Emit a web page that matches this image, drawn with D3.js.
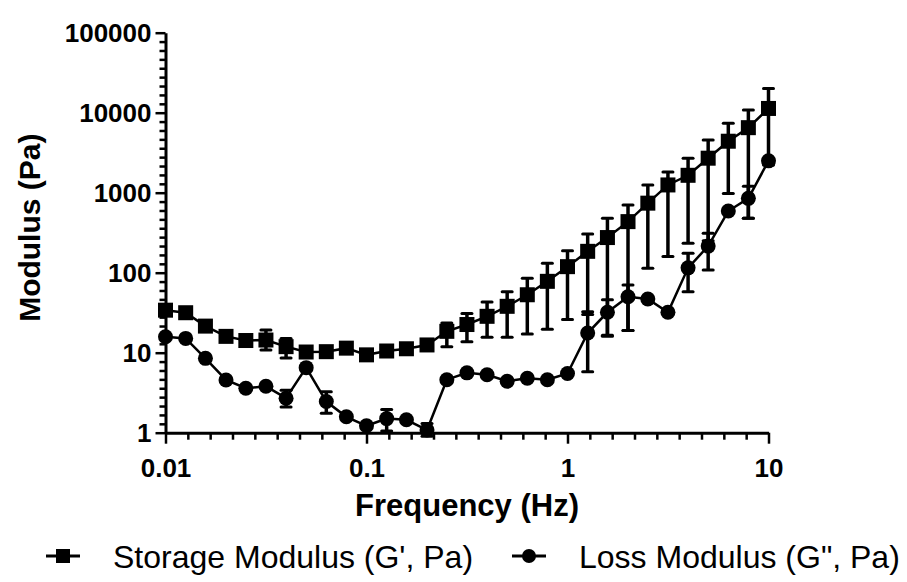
<!DOCTYPE html>
<html>
<head>
<meta charset="utf-8">
<script src="https://cdn.jsdelivr.net/npm/d3@7"></script>
<style>
  html, body { margin: 0; padding: 0; background: #fff; }
  svg { display: block; }
  text { font-family: "Liberation Sans", Arial, sans-serif; fill: #000; }
</style>
</head>
<body>
<svg id="chart" width="907" height="582"></svg>
<script>
// ---------- data ----------
const frequency = [0.01, 0.0126, 0.0158, 0.02, 0.0251, 0.0316, 0.0398, 0.0501, 0.0631, 0.0794,
                   0.1, 0.126, 0.158, 0.2, 0.251, 0.316, 0.398, 0.501, 0.631, 0.794,
                   1, 1.26, 1.58, 2, 2.51, 3.16, 3.98, 5.01, 6.31, 7.94, 10];

const storage   = [34, 31.6, 21.5, 16, 14.2, 14.4, 11.9, 10.2, 10.3, 11.4,
                   9.4, 10.5, 11.2, 12.5, 18.5, 22.5, 28.5, 38, 53, 78,
                   119, 185, 275, 435, 740, 1250, 1650, 2700, 4400, 6500, 11300];
const storageLo = [null, null, null, null, null, 10.8, 8.6, null, null, null,
                   null, null, null, null, 11.9, 13.7, 15.6, 15.6, 17.1, 19.6,
                   26, 30, 16.5, 19, 114, 159, 234, 250, 980, 480, 2220];
const storageHi = [null, null, null, null, null, 19.2, 15.1, null, null, null,
                   null, null, null, null, 23.5, 31, 43, 58, 85, 131,
                   188, 305, 478, 704, 1250, 1820, 2690, 4570, 7360, 10800, 20000];

const loss      = [15.8, 15.1, 8.5, 4.56, 3.6, 3.8, 2.7, 6.5, 2.45, 1.58,
                   1.22, 1.5, 1.45, 1.08, 4.6, 5.6, 5.3, 4.4, 4.8, 4.6,
                   5.5, 17.6, 32, 50, 47, 32, 115, 215, 590, 850, 2500];
const lossLo    = [null, null, null, null, null, null, 2.1, null, 1.75, null,
                   null, 1.05, null, 0.9, null, null, null, null, null, null,
                   null, 5.8, 16, 19, null, null, 58, 108, null, 480, null];
const lossHi    = [null, null, null, null, null, null, 3.4, null, 3.25, null,
                   null, 1.95, null, 1.3, null, null, null, null, null, null,
                   null, 32.5, 46, 70, null, null, 175, 311, null, 1200, null];

const xTicks = [0.01, 0.1, 1, 10];
const xTickLabels = ["0.01", "0.1", "1", "10"];
const yTicks = [1, 10, 100, 1000, 10000, 100000];
const yTickLabels = ["1", "10", "100", "1000", "10000", "100000"];

const xTitle = "Frequency (Hz)";
const yTitle = "Modulus (Pa)";
const seriesNames = ["Storage Modulus (G', Pa)", "Loss Modulus (G\", Pa)"];

// ---------- layout ----------
const svg = d3.select("#chart");
const pLeft = 165.5, pRight = 768.5, pTop = 32.7, pBottom = 432.7;

const x = d3.scaleLog().domain([0.01, 10]).range([pLeft, pRight]);
const y = d3.scaleLog().domain([1, 100000]).range([pBottom, pTop]);

// minor ticks: 8 evenly spaced per decade (as in reference)
function minorTicks(domain) {
  const out = [];
  const d0 = Math.round(Math.log10(domain[0])), d1 = Math.round(Math.log10(domain[1]));
  for (let d = d0; d < d1; d++) for (let k = 1; k <= 8; k++) out.push(Math.pow(10, d + k / 9));
  return out;
}

// ---------- axes ----------
const gx = svg.append("g").attr("transform", `translate(0,${pBottom})`);
gx.call(d3.axisBottom(x).tickValues(minorTicks(x.domain())).tickSize(7).tickSizeOuter(0).tickFormat(""));
gx.call(g => g.select(".domain").remove());
const gxM = svg.append("g").attr("transform", `translate(0,${pBottom})`);
gxM.call(d3.axisBottom(x).tickValues(xTicks).tickSize(11).tickSizeOuter(0)
  .tickPadding(15).tickFormat((d, i) => xTickLabels[i]));

const gy = svg.append("g").attr("transform", `translate(${pLeft},0)`);
gy.call(d3.axisLeft(y).tickValues(minorTicks(y.domain())).tickSize(6).tickSizeOuter(0).tickFormat(""));
gy.call(g => g.select(".domain").remove());
const gyM = svg.append("g").attr("transform", `translate(${pLeft},0)`);
gyM.call(d3.axisLeft(y).tickValues(yTicks).tickSize(10).tickSizeOuter(0)
  .tickPadding(4).tickFormat((d, i) => yTickLabels[i]));

svg.selectAll(".domain").attr("stroke", "#000").attr("stroke-width", 3);
svg.selectAll(".tick line").attr("stroke", "#000").attr("stroke-width", 2.5);
svg.selectAll(".tick text")
  .style("font-family", "'Liberation Sans', Arial, sans-serif")
  .style("font-weight", "bold")
  .style("font-size", "26px")
  .attr("fill", "#000");

// axis titles
svg.append("text")
  .attr("x", (pLeft + pRight) / 2).attr("y", 516)
  .attr("text-anchor", "middle")
  .style("font-weight", "bold").style("font-size", "31px")
  .text(xTitle);
svg.append("text")
  .attr("transform", `translate(40,${(pTop + pBottom) / 2 - 5}) rotate(-90)`)
  .attr("text-anchor", "middle")
  .style("font-weight", "bold").style("font-size", "30px")
  .text(yTitle);

// ---------- series ----------
const plot = svg.append("g");
function drawSeries(vals, lo, hi, shape) {
  const pts = frequency.map((f, i) => ({f, v: vals[i], lo: lo[i], hi: hi[i]}));
  const eb = plot.append("g");
  pts.forEach(p => {
    if (p.lo == null && p.hi == null) return;
    const ylo = p.lo != null ? y(p.lo) : y(p.v);
    const yhi = p.hi != null ? y(p.hi) : y(p.v);
    eb.append("line").attr("x1", x(p.f)).attr("x2", x(p.f))
      .attr("y1", yhi).attr("y2", ylo)
      .attr("stroke", "#000").attr("stroke-width", 3.5);
    [p.lo != null ? ylo : null, p.hi != null ? yhi : null].forEach(yy => {
      if (yy == null) return;
      eb.append("line").attr("x1", x(p.f) - 5).attr("x2", x(p.f) + 5)
        .attr("y1", yy).attr("y2", yy)
        .attr("stroke", "#000").attr("stroke-width", 3).attr("stroke-linecap", "round");
    });
  });
  plot.append("path").datum(pts)
    .attr("fill", "none").attr("stroke", "#000").attr("stroke-width", 2.5)
    .attr("d", d3.line().x(p => x(p.f)).y(p => y(p.v)));
  const m = plot.append("g");
  pts.forEach(p => {
    if (shape === "square") {
      m.append("rect").attr("x", x(p.f) - 7.5).attr("y", y(p.v) - 7.5)
        .attr("width", 15).attr("height", 15).attr("fill", "#000");
    } else {
      m.append("circle").attr("cx", x(p.f)).attr("cy", y(p.v)).attr("r", 7.5).attr("fill", "#000");
    }
  });
}
drawSeries(loss, lossLo, lossHi, "circle");
drawSeries(storage, storageLo, storageHi, "square");

// ---------- legend ----------
const legend = svg.append("g");
const legendItems = [
  {name: seriesNames[0], shape: "square", x0: 46, tx: 113},
  {name: seriesNames[1], shape: "circle", x0: 512, tx: 579}
];
const ly = 556;
legendItems.forEach(it => {
  legend.append("line").attr("x1", it.x0).attr("x2", it.x0 + 34).attr("y1", ly).attr("y2", ly)
    .attr("stroke", "#000").attr("stroke-width", 3);
  if (it.shape === "square") {
    legend.append("rect").attr("x", it.x0 + 17 - 7).attr("y", ly - 7).attr("width", 14).attr("height", 14).attr("fill", "#000");
  } else {
    legend.append("circle").attr("cx", it.x0 + 17).attr("cy", ly).attr("r", 7).attr("fill", "#000");
  }
  legend.append("text").attr("x", it.tx).attr("y", ly + 12)
    .style("font-size", "32px").text(it.name);
});
</script>
</body>
</html>
